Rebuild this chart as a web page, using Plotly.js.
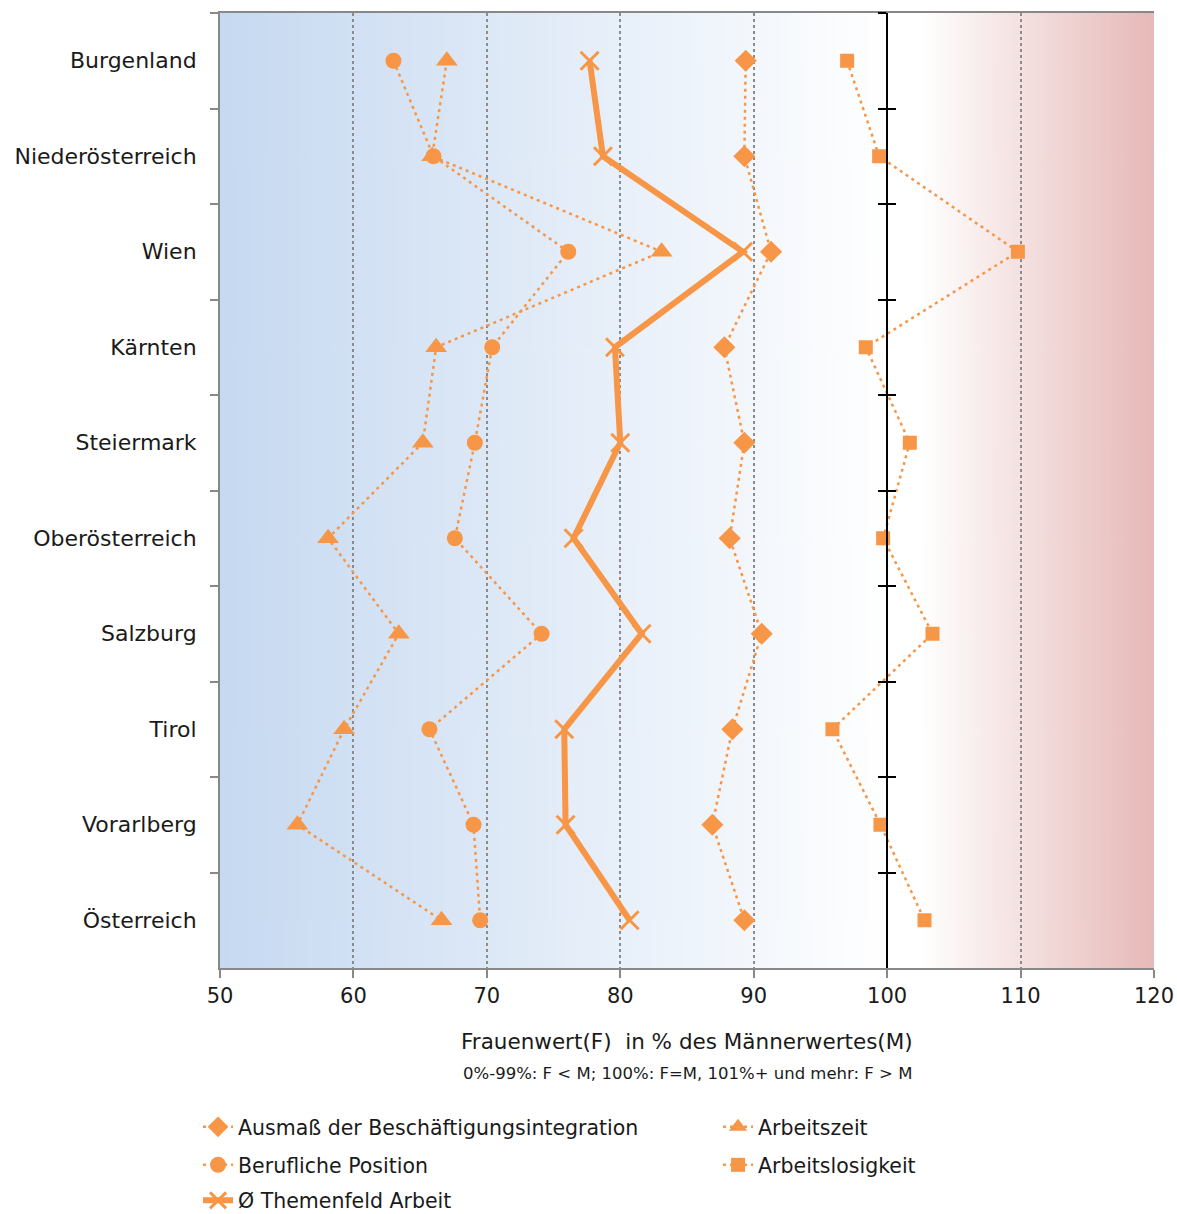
<!DOCTYPE html>
<html><head><meta charset="utf-8">
<script src="https://cdn.plot.ly/plotly-3.0.1.min.js"></script>
<style>html,body{margin:0;padding:0;background:#fff}#chart{width:1177px;height:1214px}</style>
</head><body><div id="chart"></div>
<script>
const categories = ["Burgenland","Niederösterreich","Wien","Kärnten","Steiermark","Oberösterreich","Salzburg","Tirol","Vorarlberg","Österreich"];
const ausmass     = [89.4, 89.3, 91.3, 87.8, 89.3, 88.2, 90.6, 88.4, 86.9, 89.3];
const arbeitszeit = [67.0, 65.9, 83.1, 66.2, 65.2, 58.1, 63.4, 59.3, 55.8, 66.6];
const position    = [63.0, 66.0, 76.1, 70.4, 69.1, 67.6, 74.1, 65.7, 69.0, 69.5];
const arbeitslos  = [97.0, 99.4, 109.8, 98.4, 101.7, 99.7, 103.4, 95.9, 99.5, 102.8];
const themenfeld  = [77.7, 78.7, 89.2, 79.6, 80.0, 76.5, 81.6, 75.8, 75.9, 80.7];
const seriesNames = ["Ausmaß der Beschäftigungsintegration","Arbeitszeit","Berufliche Position","Arbeitslosigkeit","Ø Themenfeld Arbeit"];
const xTitle = "Frauenwert(F)  in % des Männerwertes(M)";
const xSubtitle = "0%-99%: F &lt; M; 100%: F=M, 101%+ und mehr: F &gt; M";
const refValue = 100;

const ORANGE = '#F79646';
const FONT = 'DejaVu Sans, sans-serif';
const TXT = '#1a1a1a';

function bgImage(){
  const c = document.createElement('canvas'); c.width = 1000; c.height = 10;
  const g = c.getContext('2d');
  const gr = g.createLinearGradient(0,0,1000,0);
  gr.addColorStop(0, '#C6D9F1');
  gr.addColorStop(0.714, '#FFFFFF');
  gr.addColorStop(0.75, '#FFFFFF');
  gr.addColorStop(1, '#E6B9B8');
  g.fillStyle = gr; g.fillRect(0,0,1000,10);
  return c.toDataURL('image/png');
}

function dotted(name, vals, symbol, size, legend){
  return {type:'scatter', mode:'lines+markers', name:name, x:vals, y:categories, legend:legend,
    line:{color:ORANGE, width:2.5, dash:'3px,4px'},
    marker:{symbol:symbol, size:size, color:ORANGE}, hoverinfo:'x+name'};
}

const traces = [
  dotted(seriesNames[0], ausmass, 'diamond', 17, 'legend'),
  dotted(seriesNames[1], arbeitszeit, 'triangle-up', 19, 'legend'),
  dotted(seriesNames[2], position, 'circle', 16, 'legend2'),
  dotted(seriesNames[3], arbeitslos, 'square', 14, 'legend2'),
  {type:'scatter', mode:'lines+markers', name:seriesNames[4], x:themenfeld, y:categories, legend:'legend3',
    line:{color:ORANGE, width:6},
    marker:{symbol:'x-thin', size:18, color:ORANGE, line:{color:ORANGE, width:3}}},
  {type:'scatter', mode:'markers', x:categories.map(()=>refValue), y:categories, yaxis:'y2',
    marker:{opacity:0}, showlegend:false, hoverinfo:'skip'},
  {type:'scatter', mode:'markers', x:categories.map(()=>refValue), y:categories, yaxis:'y3',
    marker:{opacity:0}, showlegend:false, hoverinfo:'skip'}
];

const catAxis = {type:'category', categoryorder:'array', categoryarray:categories, range:[9.5,-0.5],
  tickson:'boundaries', showgrid:false, zeroline:false};

const legendBase = {orientation:'h', xanchor:'left', yanchor:'middle', entrywidth:475,
  font:{family:FONT, size:20.5, color:TXT}, bgcolor:'rgba(0,0,0,0)', x:-0.0235};

const layout = {
  width:1177, height:1214,
  margin:{l:220, r:23, t:13, b:246, autoexpand:false},
  paper_bgcolor:'#ffffff', plot_bgcolor:'rgba(0,0,0,0)',
  font:{family:FONT, color:TXT},
  images:[{source:bgImage(), xref:'paper', yref:'paper', x:0, y:1, sizex:1, sizey:1,
    sizing:'stretch', xanchor:'left', yanchor:'top', layer:'below'}],
  xaxis:{range:[50,120], tick0:50, dtick:10, showgrid:true, gridcolor:'#8c8c8c', griddash:'dot', gridwidth:1.5,
    showline:true, linecolor:'#888888', linewidth:2, mirror:true, ticks:'outside', ticklen:8, tickcolor:'#888888',
    tickwidth:1.5, tickfont:{family:FONT, size:21, color:TXT}, zeroline:false},
  yaxis:Object.assign({}, catAxis, {showline:true, linecolor:'#888888', linewidth:2, ticks:'outside', ticklen:8,
    tickcolor:'#888888', tickwidth:1.5, tickfont:{family:FONT, size:22, color:TXT}, ticklabelstandoff:17}),
  yaxis2:Object.assign({}, catAxis, {overlaying:'y', anchor:'free', position:(refValue-50)/70, side:'left',
    showline:true, linecolor:'#000000', linewidth:2, ticks:'outside', ticklen:8, tickcolor:'#000000', tickwidth:2,
    showticklabels:false}),
  yaxis3:Object.assign({}, catAxis, {overlaying:'y', anchor:'free', position:(refValue-50)/70, side:'left',
    showline:false, ticks:'inside', ticklen:8, tickcolor:'#000000', tickwidth:2, showticklabels:false}),
  legend:Object.assign({}, legendBase, {y:-0.1665}),
  legend2:Object.assign({}, legendBase, {y:-0.2063}),
  legend3:Object.assign({}, legendBase, {y:-0.2435}),
  annotations:[
    {xref:'paper', yref:'paper', x:0.5, y:-0.0774, xanchor:'center', yanchor:'middle', showarrow:false,
      text:xTitle, font:{family:FONT, size:21.5, color:TXT}},
    {xref:'paper', yref:'paper', x:0.5, y:-0.110, xanchor:'center', yanchor:'middle', showarrow:false,
      text:xSubtitle, font:{family:FONT, size:16.5, color:TXT}}
  ],
  showlegend:true
};

Plotly.newPlot('chart', traces, layout, {displayModeBar:false, responsive:false});
</script></body></html>
